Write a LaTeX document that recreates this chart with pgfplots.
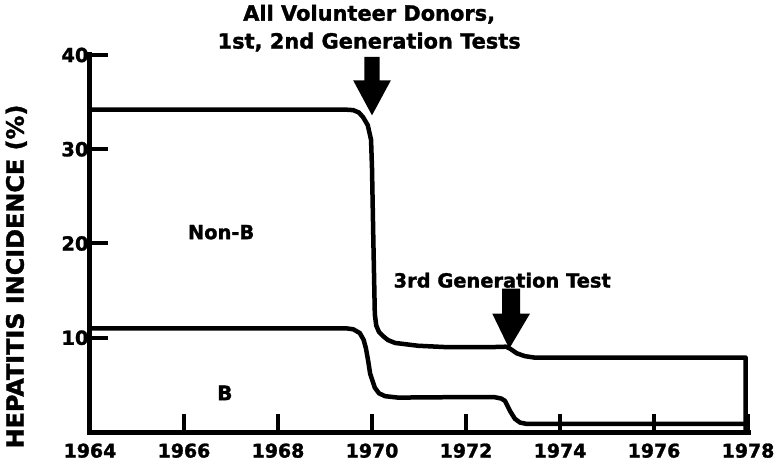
\documentclass[border=0pt]{standalone}
\usepackage{fontspec}
\setmainfont{DejaVu Sans}[BoldFeatures={FakeBold=1.5}]
\usepackage{pgfplots}
\pgfplotsset{compat=1.18}
\begin{document}
\begin{tikzpicture}
\useasboundingbox (-90bp,-38bp) rectangle (686bp,432bp);
\begin{axis}[
  at={(0,0)}, anchor=south west,
  scale only axis, width=658bp, height=377bp,
  xmin=1964, xmax=1978, ymin=0, ymax=40,
  axis x line=bottom, axis y line=left,
  axis line style={-, line width=5bp, line cap=rect},
  xtick={1964,1966,...,1978}, ytick={10,20,30,40},
  tick align=inside, major tick length=18bp,
  tick style={line width=4bp, black},
  xticklabel style={font=\fontsize{19}{20}\selectfont\bfseries, yshift=-8bp},
  yticklabel style={font=\fontsize{19.5}{20}\selectfont\bfseries, xshift=2bp},
  /pgf/number format/assume math mode=true,
  /pgf/number format/1000 sep={},
  clip=false,
]
% Non-B
\addplot[black, line width=4.5bp, line join=round] coordinates {
 (1964,34.2) (1969.45,34.2) (1969.6,34.15) (1969.72,33.9) (1969.81,33.4)
 (1969.91,32.55) (1969.98,31.0) (1970.0,28) (1970.03,20) (1970.06,12.5)
 (1970.09,11.3) (1970.15,10.6) (1970.23,10.2) (1970.34,9.75) (1970.49,9.45)
 (1970.98,9.15) (1971.6,9.0) (1972.5,9.0) (1972.85,9.05) (1972.95,8.8)
 (1973.08,8.35) (1973.25,8.05) (1973.45,7.9) (1977.95,7.9) (1977.95,0)
};
% B
\addplot[black, line width=4.5bp, line join=round] coordinates {
 (1964,11.0) (1969.45,11.0) (1969.6,10.9) (1969.74,10.5) (1969.82,9.8)
 (1969.87,8.9) (1969.92,7.5) (1969.96,6.2) (1970.06,4.7) (1970.15,4.1)
 (1970.28,3.8) (1970.55,3.65) (1971.83,3.7) (1972.6,3.7) (1972.75,3.55)
 (1972.83,3.3) (1972.94,2.2) (1973.04,1.4) (1973.15,1.0) (1973.3,0.85)
 (1977.95,0.85)
};
% arrows
\fill[black] (axis cs:1969.84,39.8) -- (axis cs:1970.16,39.8) -- (axis cs:1970.16,37.3)
  -- (axis cs:1970.40,37.3) -- (axis cs:1970.0,33.6) -- (axis cs:1969.60,37.3)
  -- (axis cs:1969.84,37.3) -- cycle;
\fill[black] (axis cs:1972.77,15.2) -- (axis cs:1973.15,15.2) -- (axis cs:1973.15,12.55)
  -- (axis cs:1973.36,12.55) -- (axis cs:1972.92,8.85) -- (axis cs:1972.56,12.55)
  -- (axis cs:1972.77,12.55) -- cycle;
% texts
\node[font=\fontsize{21}{27}\selectfont\bfseries, align=center] at (axis cs:1969.94,42.85)
  {All Volunteer Donors,\\[1bp]1st, 2nd Generation Tests};
\node[font=\fontsize{19.5}{22}\selectfont\bfseries] at (axis cs:1972.77,16.1) {3rd Generation Test};
\node[font=\fontsize{19.5}{22}\selectfont\bfseries] at (axis cs:1966.79,21.2) {Non-B};
\node[font=\fontsize{20}{22}\selectfont\bfseries] at (axis cs:1966.87,4.15) {B};
\node[font=\fontsize{24}{26}\selectfont\bfseries, rotate=90] at (axis cs:1962.43,16.5)
  {HEPATITIS INCIDENCE (\%)};
\end{axis}
\end{tikzpicture}
\end{document}
